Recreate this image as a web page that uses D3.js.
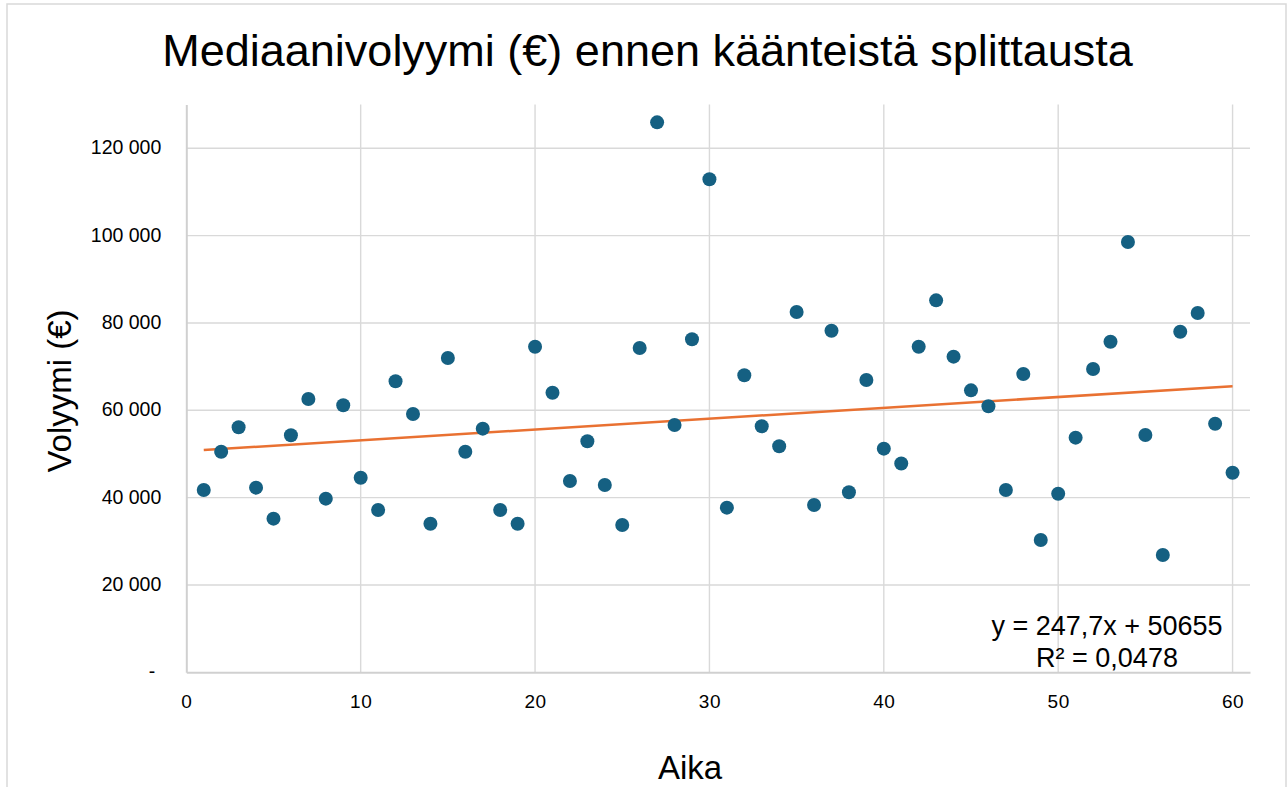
<!DOCTYPE html>
<html lang="fi">
    <head>
        <title>Mediaanivolyymi</title>
        <meta charset="UTF-8">
        <script src="https://d3js.org/d3.v7.min.js"></script>
        <style>
            body { margin: 0; background: #fff; }
            text { font-family: "Liberation Sans", Arial, sans-serif; fill: #000; }
        </style>
    </head>
    <body>
        <script>
            const width = 1288
            const height = 787

            // data
            const aika = d3.range(1, 61)
            const volyymi = [
                41750, 50520, 56100, 42280, 35180, 54270, 62590, 39760, 61140, 44560,
                37170, 66640, 59150, 34030, 71970, 50520, 55790, 37170, 34030, 74560,
                64030, 43810, 52900, 42890, 33730, 74270, 125930, 56630, 76260, 112900,
                37700, 68010, 56330, 51750, 82510, 38310, 78230, 41220, 66940, 51210,
                47800, 74560, 85180, 72280, 64570, 60910, 41750, 68310, 30300, 40900,
                53730, 69460, 75710, 98540, 54340, 26860, 78000, 82280, 56930, 45710
            ]
            const xTicks = [0, 10, 20, 30, 40, 50, 60]
            const yTicks = [0, 20000, 40000, 60000, 80000, 100000, 120000]
            const yTickLabels = ["-", "20 000", "40 000", "60 000", "80 000", "100 000", "120 000"]
            const trendSlope = 247.7
            const trendIntercept = 50655
            const trendLabels = ["y = 247,7x + 50655", "R² = 0,0478"]

            const svg = d3.select("body")
                .append("svg")
                .attr("width", width)
                .attr("height", height)

            // outer chart border
            svg.append("rect")
                .attr("x", 7).attr("y", 4)
                .attr("width", 1279).attr("height", 800)
                .attr("fill", "none")
                .attr("stroke", "#d9d9d9")
                .attr("stroke-width", 1.5)

            const x = d3.scaleLinear().domain([0, 61]).range([186.3, 1250])
            const y = d3.scaleLinear().domain([0, 130000]).range([672.3, 104.6])

            // grid
            svg.append("g")
                .selectAll("line")
                .data(yTicks.slice(1))
                .enter()
                .append("line")
                .attr("x1", x(0)).attr("x2", x(61))
                .attr("y1", d => y(d)).attr("y2", d => y(d))
                .attr("stroke", "#d9d9d9")
                .attr("stroke-width", 1.4)

            svg.append("g")
                .selectAll("line")
                .data(xTicks.slice(1))
                .enter()
                .append("line")
                .attr("x1", d => x(d)).attr("x2", d => x(d))
                .attr("y1", y(0)).attr("y2", y(130000))
                .attr("stroke", "#d9d9d9")
                .attr("stroke-width", 1.4)

            // axes
            const xAxis = svg.append("g")
                .attr("transform", `translate(0, ${y(0)})`)
                .call(d3.axisBottom(x).tickValues(xTicks).tickSize(0).tickPadding(22))
            xAxis.select(".domain").attr("stroke", "#d0d0d0").attr("stroke-width", 2)
            xAxis.selectAll("text")
                .style("font-size", "19px")
                .style("letter-spacing", "0.5px")
                .attr("fill", "#000")

            const yAxis = svg.append("g")
                .attr("transform", `translate(${x(0)}, 0)`)
                .call(d3.axisLeft(y).tickValues(yTicks).tickSize(0).tickPadding(25)
                    .tickFormat((d, i) => yTickLabels[i]))
            yAxis.select(".domain").attr("stroke", "#d0d0d0").attr("stroke-width", 2)
            yAxis.selectAll("text")
                .style("font-size", "19.5px")
                .attr("fill", "#000")
                .attr("dy", "0.28em")
            yAxis.selectAll(".tick")
                .filter(d => d === 0)
                .select("text")
                .attr("x", -31)

            // trendline
            svg.append("line")
                .attr("x1", x(1)).attr("y1", y(trendSlope * 1 + trendIntercept))
                .attr("x2", x(60)).attr("y2", y(trendSlope * 60 + trendIntercept))
                .attr("stroke", "#e97132")
                .attr("stroke-width", 2.5)

            // points
            svg.append("g")
                .selectAll("circle")
                .data(aika)
                .enter()
                .append("circle")
                .attr("cx", d => x(d))
                .attr("cy", (d, i) => y(volyymi[i]))
                .attr("r", 7)
                .attr("fill", "#156082")

            // trendline label
            svg.append("g")
                .selectAll("text")
                .data(trendLabels)
                .enter()
                .append("text")
                .attr("x", 1107)
                .attr("y", (d, i) => 635 + i * 32)
                .attr("text-anchor", "middle")
                .style("font-size", "27px")
                .text(d => d)

            // titles
            svg.append("text")
                .attr("x", 647.5).attr("y", 66)
                .attr("text-anchor", "middle")
                .style("font-size", "45px")
                .text("Mediaanivolyymi (€) ennen käänteistä splittausta")

            svg.append("text")
                .attr("transform", "translate(71, 391) rotate(-90)")
                .attr("text-anchor", "middle")
                .style("font-size", "33px")
                .text("Volyymi (€)")

            svg.append("text")
                .attr("x", 690).attr("y", 779)
                .attr("text-anchor", "middle")
                .style("font-size", "33px")
                .text("Aika")
        </script>
    </body>
</html>
